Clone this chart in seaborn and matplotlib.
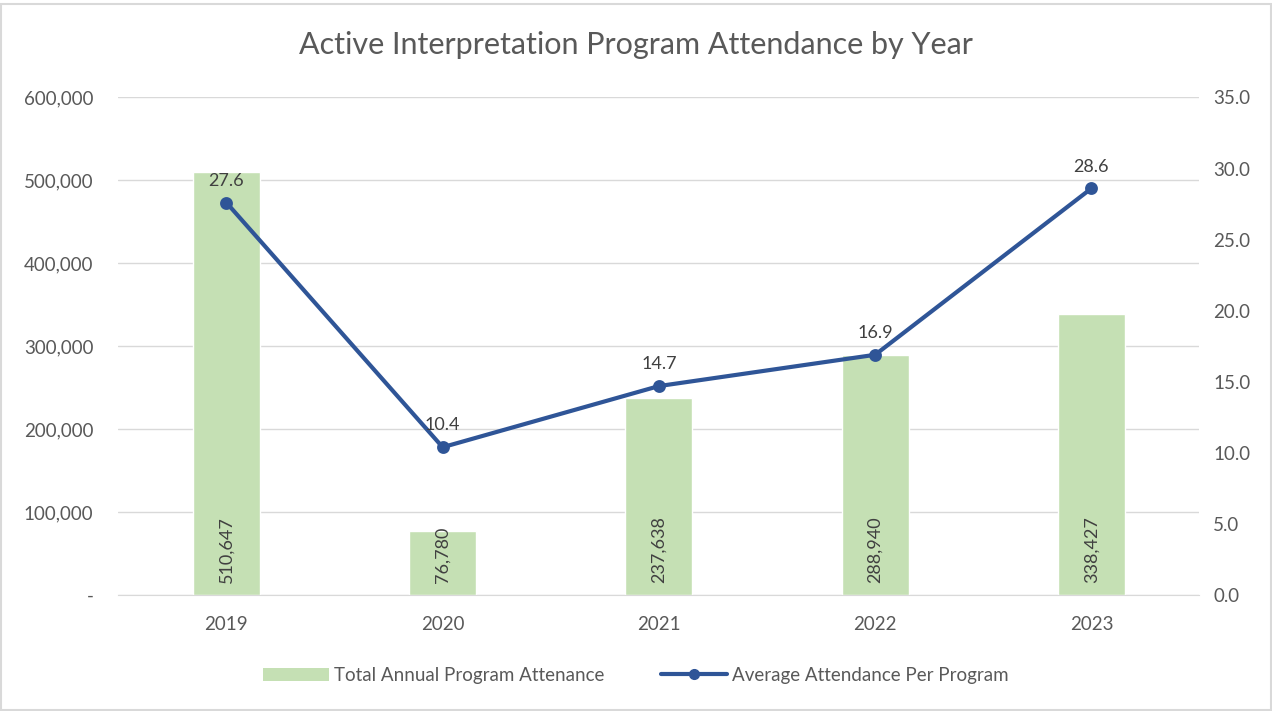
import pandas as pd
import matplotlib.pyplot as plt
import seaborn as sns
from matplotlib.lines import Line2D
from matplotlib.patches import Patch, Rectangle
from matplotlib.ticker import FuncFormatter

years = ["2019", "2020", "2021", "2022", "2023"]
total_attendance = [510647, 76780, 237638, 288940, 338427]
avg_attendance = [27.6, 10.4, 14.7, 16.9, 28.6]

bar_color = "#C5E0B4"
line_color = "#2F5597"
text_color = "#595959"

sns.set_style("white")
plt.rcParams["font.family"] = ["Lato", "DejaVu Sans"]

df = pd.DataFrame({"year": years, "total": total_attendance, "avg": avg_attendance})

fig = plt.figure(figsize=(12.72, 7.11), dpi=100)
ax = fig.add_axes([0.093, 0.163, 0.850, 0.700])

sns.barplot(data=df, x="year", y="total", color=bar_color, width=0.31,
            saturation=1, ax=ax)
ax.set_ylim(0, 600000)
ax.set_yticks(range(0, 600001, 100000))
ax.yaxis.set_major_formatter(FuncFormatter(lambda v, p: "-" if v == 0 else f"{int(v):,}"))
ax.grid(axis="y", color="#D9D9D9", linewidth=1)
ax.set_axisbelow(True)
for s in ["top", "left", "right"]:
    ax.spines[s].set_visible(False)
ax.spines["bottom"].set_color("#D9D9D9")
ax.set_xlabel("")
ax.set_ylabel("")
ax.tick_params(axis="y", length=0, labelsize=13.5, labelcolor=text_color, pad=18)
ax.tick_params(axis="x", length=0, labelsize=13.5, labelcolor=text_color, pad=15)

for i, v in enumerate(total_attendance):
    ax.annotate(f"{v:,}", xy=(i, 0), xytext=(0, 9), textcoords="offset points",
                rotation=90, ha="center", va="bottom", fontsize=13, color="#404040")

ax2 = ax.twinx()
sns.pointplot(data=df, x="year", y="avg", color=line_color, markers="o",
              linestyles="-", ax=ax2, markersize=7, linewidth=3)
ax2.set_ylim(0, 35)
ax2.set_yticks(range(0, 36, 5))
ax2.yaxis.set_major_formatter(FuncFormatter(lambda v, p: f"{v:.1f}"))
ax2.set_xlim(-0.5, len(years) - 0.5)
ax.set_xlim(-0.5, len(years) - 0.5)
for s in ["top", "left", "right", "bottom"]:
    ax2.spines[s].set_visible(False)
ax2.set_ylabel("")
ax2.set_xlabel("")
ax2.tick_params(axis="y", length=0, labelsize=13.5, labelcolor=text_color, pad=10)

for i, v in enumerate(avg_attendance):
    ax2.annotate(f"{v:.1f}", xy=(i, v), xytext=(0, 10), textcoords="offset points",
                 ha="center", va="bottom", fontsize=13, color="#404040")

fig.text(0.5, 0.937, "Active Interpretation Program Attendance by Year",
         ha="center", va="center", fontsize=22, color=text_color)

handles = [Patch(facecolor=bar_color, edgecolor="none"),
           Line2D([0], [0], color=line_color, linewidth=3, marker="o", markersize=7)]
fig.legend(handles, ["Total Annual Program Attenance", "Average Attendance Per Program"],
           loc="center", bbox_to_anchor=(0.5, 0.05), ncol=2, frameon=False,
           fontsize=13.5, labelcolor=text_color, handlelength=3.5, columnspacing=3,
           handletextpad=0.3)

fig.patches.append(Rectangle((0.001, 0.001), 0.998, 0.993, transform=fig.transFigure,
                             fill=False, edgecolor="#D9D9D9", linewidth=1.5))

fig.savefig("out.png", dpi=100)
